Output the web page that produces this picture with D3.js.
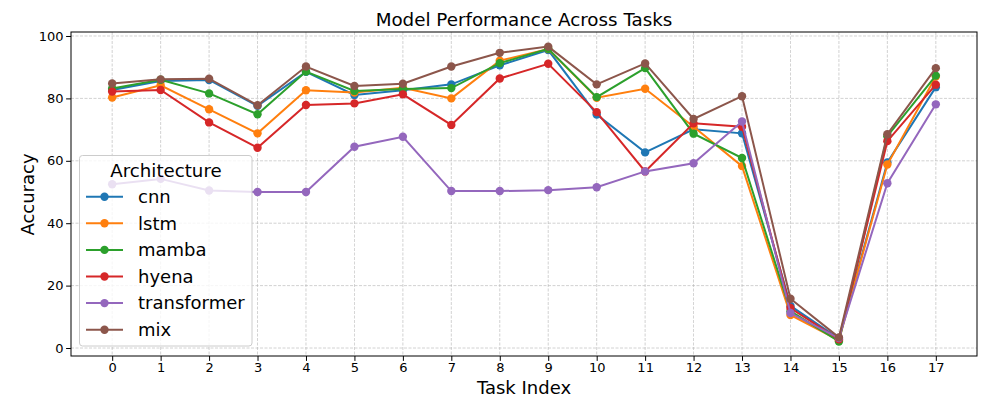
<!DOCTYPE html>
<html><head><meta charset="utf-8">
<script src="https://cdn.jsdelivr.net/npm/d3@7"></script>
<style>body{margin:0;background:#fff}svg{display:block}text{font-family:"DejaVu Sans",sans-serif}</style>
</head><body><svg id="c" width="997" height="409"></svg>
<script>
const tasks = [0,1,2,3,4,5,6,7,8,9,10,11,12,13,14,15,16,17];
const seriesNames = ["cnn","lstm","mamba","hyena","transformer","mix"];
const colors = ["#1f77b4","#ff7f0e","#2ca02c","#d62728","#9467bd","#8c564b"];
const cnn         = [82.7,85.6,85.9,77.6,88.5,81.1,82.6,84.5,90.6,95.5,74.8,62.7,70.1,68.8,13.5,3.0,59.5,83.6];
const lstm        = [80.3,84.2,76.5,68.8,82.6,81.9,83.4,80.0,92.1,95.8,80.2,83.1,70.9,58.3,10.6,2.5,58.8,87.0];
const mamba       = [83.2,86.0,81.6,74.9,88.6,82.4,83.0,83.3,91.3,95.9,80.4,89.7,68.7,60.9,11.8,2.1,67.9,87.3];
const hyena       = [82.2,82.7,72.3,64.2,77.9,78.4,81.3,71.5,86.4,91.1,75.6,56.6,72.0,70.9,12.8,2.8,66.3,84.4];
const transformer = [52.5,54.2,50.5,50.0,50.0,64.5,67.7,50.3,50.3,50.6,51.5,56.6,59.2,72.6,11.2,3.2,52.8,78.1];
const mix         = [84.8,86.1,86.3,77.8,90.2,84.0,84.7,90.2,94.6,96.6,84.5,91.2,73.4,80.7,15.8,3.4,68.5,89.7];
const yTicks = [0,20,40,60,80,100];
const data = [cnn,lstm,mamba,hyena,transformer,mix];

const svg = d3.select("#c");
const L=71,R=977,T=32,B=356;
const x = d3.scaleLinear().domain([-0.85,17.85]).range([L,R]);
const y = d3.scaleLinear().domain([-2.56,101.28]).range([B,T]);

// grid
const g = svg.append("g");
g.selectAll(".gx").data(tasks).enter().append("line")
 .attr("x1",d=>x(d)).attr("x2",d=>x(d)).attr("y1",T).attr("y2",B)
 .attr("stroke","#b0b0b0").attr("stroke-width",0.8).attr("stroke-dasharray","3,1.5").attr("opacity",0.7);
g.selectAll(".gy").data(yTicks).enter().append("line")
 .attr("x1",L).attr("x2",R).attr("y1",d=>y(d)).attr("y2",d=>y(d))
 .attr("stroke","#b0b0b0").attr("stroke-width",0.8).attr("stroke-dasharray","3,1.5").attr("opacity",0.7);

// series
const line = d3.line().x((d,i)=>x(tasks[i])).y(d=>y(d));
data.forEach((s,k)=>{
  const gs = svg.append("g");
  gs.append("path").datum(s).attr("d",line).attr("fill","none").attr("stroke",colors[k]).attr("stroke-width",2);
  gs.selectAll("circle").data(s).enter().append("circle")
    .attr("cx",(d,i)=>x(tasks[i])).attr("cy",d=>y(d)).attr("r",4.2).attr("fill",colors[k]);
});

// axes
const xa = svg.append("g").attr("transform",`translate(0,${B})`)
 .call(d3.axisBottom(x).tickValues(tasks).tickFormat(d3.format("d")).tickSize(4.9).tickSizeOuter(0));
const ya = svg.append("g").attr("transform",`translate(${L},0)`)
 .call(d3.axisLeft(y).tickValues(yTicks).tickFormat(d3.format("d")).tickSize(4.9).tickSizeOuter(0));
[xa,ya].forEach(a=>{a.select(".domain").remove();a.selectAll("text").attr("font-size",13).attr("fill","#000").attr("font-family","DejaVu Sans");a.selectAll("line").attr("stroke","#000").attr("stroke-width",1);});
xa.selectAll("text").attr("y",6.5).attr("dy","0.71em");
ya.selectAll("text").attr("x",-7.5);
svg.append("rect").attr("x",L).attr("y",T).attr("width",R-L).attr("height",B-T)
 .attr("fill","none").attr("stroke","#000").attr("stroke-width",1);

// labels
svg.append("text").attr("x",(L+R)/2).attr("y",25.5).attr("text-anchor","middle").attr("font-size",18.3).text("Model Performance Across Tasks");
svg.append("text").attr("x",(L+R)/2).attr("y",393.5).attr("text-anchor","middle").attr("font-size",18).text("Task Index");
svg.append("text").attr("transform",`translate(33.5,${(T+B)/2+0.5}) rotate(-90)`).attr("text-anchor","middle").attr("font-size",18).text("Accuracy");

// legend
const lg = svg.append("g");
lg.append("rect").attr("x",79.5).attr("y",155.5).attr("width",172.5).attr("height",190.5).attr("rx",3)
 .attr("fill","#fff").attr("fill-opacity",0.8).attr("stroke","#cccccc").attr("stroke-width",1);
lg.append("text").attr("x",166).attr("y",177).attr("text-anchor","middle").attr("font-size",18.2).text("Architecture");
seriesNames.forEach((n,k)=>{
  const yy = 196.7 + k*26.6;
  lg.append("line").attr("x1",86).attr("x2",123).attr("y1",yy).attr("y2",yy).attr("stroke",colors[k]).attr("stroke-width",2);
  lg.append("circle").attr("cx",104.5).attr("cy",yy).attr("r",4.2).attr("fill",colors[k]);
  lg.append("text").attr("x",138).attr("y",yy).attr("dy","0.35em").attr("font-size",18).text(n);
});
</script></body></html>
